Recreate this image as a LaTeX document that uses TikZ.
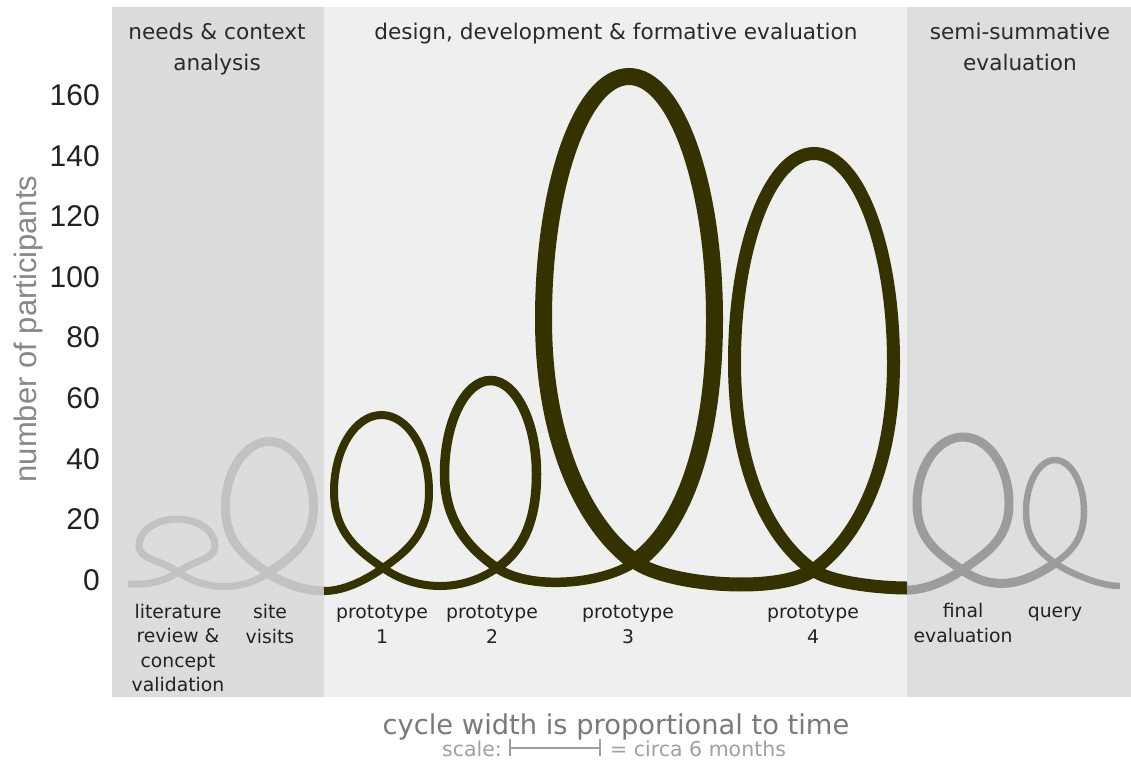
\documentclass[tikz,border=0pt]{standalone}
\usepackage{fontspec}
\setmainfont{DejaVu Sans}
\newfontfamily\arialfont{Liberation Sans}
\definecolor{leftbg}{HTML}{DCDCDC}
\definecolor{midbg}{HTML}{EFEFEF}
\definecolor{rightbg}{HTML}{DEDEDE}
\definecolor{loopdark}{HTML}{343300}
\definecolor{graylight}{HTML}{C2C2C2}
\definecolor{graymid}{HTML}{9C9C9C}
\definecolor{hdrcol}{HTML}{2A2A2A}
\definecolor{lblcol}{HTML}{222222}
\definecolor{ylabcol}{HTML}{888888}
\definecolor{titlecol}{HTML}{7A7A7A}
\definecolor{scalecol}{HTML}{A0A0A0}
\begin{document}
\begin{tikzpicture}[x=1pt,y=-1pt,
  hdr/.style={font=\fontsize{21.6}{31.5}\selectfont, text=hdrcol, align=center, inner sep=0pt, anchor=base},
  lbl/.style={font=\fontsize{18.8}{24.5}\selectfont, text=lblcol, align=center, inner sep=0pt, anchor=base},
  ticklab/.style={font=\arialfont\fontsize{30}{30}\selectfont, text=lblcol, inner sep=0pt, anchor=east},
  ylab/.style={font=\arialfont\fontsize{31}{31}\selectfont, text=ylabcol, inner sep=0pt, anchor=base, rotate=90},
  titletext/.style={font=\fontsize{27.3}{30}\selectfont, text=titlecol, inner sep=0pt, anchor=base},
  scaletext/.style={font=\fontsize{20.5}{22}\selectfont, text=scalecol, inner sep=0pt},
  lightloop/.style={draw=graylight},
  midloop/.style={draw=graymid},
  darkloop/.style={draw=loopdark}]
\useasboundingbox (0,0) rectangle (1131,763);
\fill[white] (0,0) rectangle (1131,763);
% panels
\fill[leftbg] (112,7) rectangle (324,697);
\fill[midbg] (324,7) rectangle (907,697);
\fill[rightbg] (907,7) rectangle (1131,697);
% headers (base anchor = baseline of the last line)
\node[hdr] (h1) at (217,70.5) {needs \& context\\analysis};
\node[hdr] (h2) at (616,39) {design, development \& formative evaluation};
\node[hdr] (h3) at (1020,70.5) {semi-summative\\evaluation};
% y axis
\foreach \v in {0,20,...,160} \node[ticklab] (tick\v) at (100,{580-3.03*\v}) {\v};
\node[ylab] (ylabel) at (36,329) {number of participants};
% light gray loops
\draw[lightloop, line width=7pt] (128,584) .. controls (148,585) and (164,581.8) .. (178,572)
 .. controls (197,558.7) and (215,560) .. (215,545.5)
 .. controls (215,531) and (198,519) .. (177,519)
 .. controls (156,519) and (139,531) .. (139,545.5)
 .. controls (139,560) and (159,558.7) .. (178,572)
 .. controls (204.7,590.7) and (241.3,591.7) .. (268,573);
\draw[lightloop, line width=9pt] (268,573)
 .. controls (290,557.6) and (313.5,543.3) .. (313.5,507)
 .. controls (313.5,470.8) and (293.8,441.5) .. (269.5,441.5)
 .. controls (245.2,441.5) and (225.5,470.8) .. (225.5,507)
 .. controls (225.5,543.3) and (246,557.6) .. (268,573)
 .. controls (283,583.5) and (305,591) .. (325,591);
% dark loops
\draw[darkloop, line width=8pt] (324,591) .. controls (345,591) and (367,579.2) .. (383,568)
 .. controls (407,551.2) and (429,533.5) .. (429,491.5)
 .. controls (429,449.3) and (407.7,415) .. (381.5,415)
 .. controls (355.3,415) and (334,449.3) .. (334,491.5)
 .. controls (334,533.5) and (359,551.2) .. (383,568)
 .. controls (417.3,592) and (462.7,592) .. (497,568);
\draw[darkloop, line width=9.5pt] (497,568)
 .. controls (520,551.9) and (536.5,525.7) .. (536.5,474)
 .. controls (536.5,422.4) and (515.9,380.5) .. (490.5,380.5)
 .. controls (465.1,380.5) and (444.5,422.4) .. (444.5,474)
 .. controls (444.5,525.7) and (474,551.9) .. (497,568)
 .. controls (529.4,590.7) and (602.6,584.7) .. (635,562);
\draw[darkloop, line width=17pt] (635,562)
 .. controls (678,531.9) and (714.5,452.7) .. (714.5,319)
 .. controls (714.5,185.1) and (676.2,76.5) .. (629,76.5)
 .. controls (581.8,76.5) and (543.5,185.1) .. (543.5,319)
 .. controls (543.5,452.7) and (592,531.9) .. (635,562);
\draw[darkloop, line width=14pt] (635,562) .. controls (669.3,586) and (778.7,594) .. (813,570);
\draw[darkloop, line width=13pt] (813,570)
 .. controls (853,542) and (893.5,476.4) .. (893.5,362)
 .. controls (893.5,246.9) and (857.9,153.5) .. (814,153.5)
 .. controls (770.1,153.5) and (734.5,246.9) .. (734.5,362)
 .. controls (734.5,476.4) and (773,542) .. (813,570)
 .. controls (833,584) and (885,588) .. (907,588);
% mid gray loops
\draw[midloop, line width=9pt] (907,590) .. controls (925,590) and (946,581.2) .. (962,570)
 .. controls (985,553.9) and (1009,540.1) .. (1009,503.5)
 .. controls (1009,466.8) and (988.4,437) .. (963,437)
 .. controls (937.6,437) and (917,466.8) .. (917,503.5)
 .. controls (917,540.1) and (939,553.9) .. (962,570)
 .. controls (993.4,592) and (1023.6,585) .. (1055,563);
\draw[midloop, line width=6.5pt] (1055,563)
 .. controls (1070,552.5) and (1084,539.8) .. (1084,511.5)
 .. controls (1084,483.1) and (1071,460) .. (1055,460)
 .. controls (1039,460) and (1026,483.1) .. (1026,511.5)
 .. controls (1026,539.8) and (1040,552.5) .. (1055,563)
 .. controls (1070,573.5) and (1100,586) .. (1120,586);
% labels (base anchor = baseline of the last line)
\node[lbl] (litlbl) at (178,691.5) {literature\\review \&\\concept\\validation};
\node[lbl] (sitelbl) at (270,643) {site\\visits};
\node[lbl] (p1lbl) at (382,643) {prototype\\1};
\node[lbl] (p2lbl) at (492,643) {prototype\\2};
\node[lbl] (p3lbl) at (628,643) {prototype\\3};
\node[lbl] (p4lbl) at (813,643) {prototype\\4};
\node[lbl] (finlbl) at (963,642) {final\\evaluation};
\node[lbl] (qlbl) at (1055,617) {query};
% bottom
\node[titletext] (title) at (616,734) {cycle width is proportional to time};
\node[scaletext, anchor=base east] (scalelbl) at (502,756) {scale:};
\coordinate (barL) at (510,748);
\coordinate (barR) at (600,748);
\draw[scalecol, line width=1.5pt] (barL) -- (barR);
\draw[scalecol, line width=1.5pt] ([yshift=-8pt]barL) -- ([yshift=9pt]barL);
\draw[scalecol, line width=1.5pt] ([yshift=-8pt]barR) -- ([yshift=9pt]barR);
\node[scaletext, anchor=base west] (scaleval) at (610,756) {= circa 6 months};
\end{tikzpicture}
\end{document}
